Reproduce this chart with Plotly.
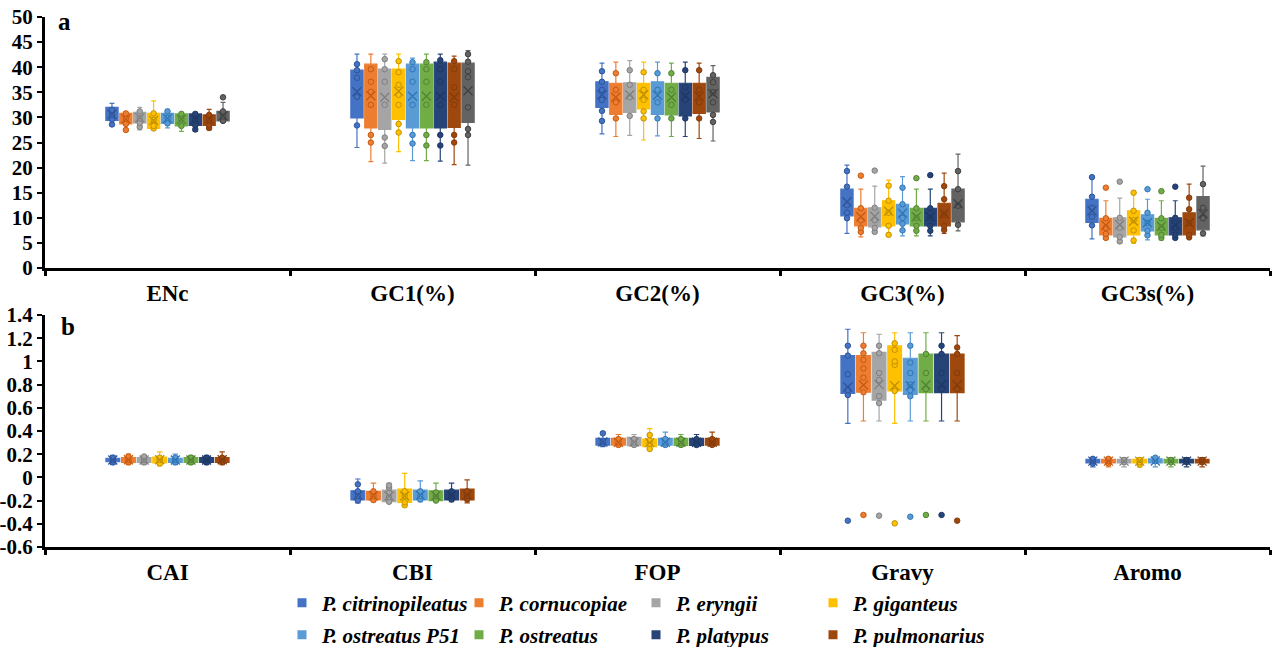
import plotly.graph_objects as go

SPECIES = ["P. citrinopileatus", "P. cornucopiae", "P. eryngii", "P. giganteus",
           "P. ostreatus P51", "P. ostreatus", "P. platypus", "P. pulmonarius"]
EXTRA_NAME = "Series 9"
COLORS = ["#4472C4", "#ED7D31", "#A5A5A5", "#FFC000", "#5B9BD5",
          "#70AD47", "#264478", "#9E480E", "#636363"]
EDGES = ["#2F5597", "#C55A11", "#7F7F7F", "#BF9000", "#2E75B6",
         "#548235", "#1F3864", "#843C0C", "#404040"]

A_CATS = ["ENc", "GC1(%)", "GC2(%)", "GC3(%)", "GC3s(%)"]
B_CATS = ["CAI", "CBI", "FOP", "Gravy", "Aromo"]

A_YTICKS = [0, 5, 10, 15, 20, 25, 30, 35, 40, 45, 50]
A_YLABELS = ["0", "5", "10", "15", "20", "25", "30", "35", "40", "45", "50"]
B_YTICKS = [-0.6, -0.4, -0.2, 0, 0.2, 0.4, 0.6, 0.8, 1.0, 1.2, 1.4]
B_YLABELS = ["-0.6", "-0.4", "-0.2", "0", "0.2", "0.4", "0.6", "0.8", "1", "1.2", "1.4"]

# ---- panel a : rows = species (9), columns = A_CATS ----
A_LOW = [
    [28.3, 24.0, 26.7, 6.9, 5.8],
    [27.2, 21.2, 26.2, 6.2, 5.7],
    [27.5, 20.9, 26.4, 6.9, 4.9],
    [27.5, 23.2, 25.5, 6.6, 4.9],
    [27.9, 21.4, 26.3, 6.4, 5.6],
    [27.2, 21.4, 26.2, 6.4, 5.6],
    [27.2, 21.3, 26.2, 6.4, 5.7],
    [27.5, 20.6, 25.8, 6.9, 6.0],
    [29.0, 20.5, 25.3, 7.4, 6.4],
]
A_Q1 = [
    [29.4, 29.9, 32.0, 10.4, 9.1],
    [28.7, 27.9, 30.6, 8.4, 6.6],
    [28.9, 27.6, 31.0, 8.2, 6.2],
    [27.8, 29.6, 31.7, 8.4, 6.6],
    [28.8, 27.9, 30.6, 8.8, 7.4],
    [28.3, 27.9, 30.5, 8.4, 6.6],
    [28.4, 27.9, 30.3, 8.4, 6.6],
    [28.4, 28.0, 30.8, 8.4, 6.6],
    [29.3, 29.0, 31.1, 9.2, 7.6],
]
A_MED = [
    [30.5, 35.2, 34.8, 13.0, 11.2],
    [29.8, 34.1, 34.1, 9.9, 8.2],
    [30.0, 34.2, 34.8, 9.6, 8.2],
    [29.5, 35.1, 34.5, 11.0, 8.8],
    [29.9, 34.2, 34.5, 10.6, 8.6],
    [29.6, 34.1, 34.8, 9.9, 7.9],
    [29.6, 34.1, 34.5, 9.9, 8.2],
    [29.5, 33.8, 34.5, 10.6, 8.8],
    [30.2, 38.1, 34.9, 12.4, 9.9],
]
A_Q3 = [
    [32.0, 39.4, 37.1, 15.7, 13.7],
    [30.8, 40.6, 36.8, 11.9, 9.9],
    [31.0, 39.6, 36.9, 12.0, 10.0],
    [30.8, 39.6, 36.8, 13.4, 11.4],
    [30.8, 40.6, 37.1, 12.7, 10.6],
    [30.7, 40.6, 36.8, 11.9, 9.9],
    [30.7, 41.0, 36.8, 11.9, 10.0],
    [30.5, 40.8, 36.8, 12.9, 11.0],
    [31.2, 40.8, 38.0, 15.7, 14.2],
]
A_HIGH = [
    [32.8, 42.6, 40.8, 20.5, 18.1],
    [31.1, 42.6, 41.0, 15.7, 13.4],
    [32.0, 42.6, 41.3, 16.3, 13.9],
    [33.3, 42.6, 41.0, 17.5, 15.0],
    [31.6, 41.8, 41.0, 18.2, 13.7],
    [31.0, 42.6, 40.8, 15.7, 13.4],
    [31.0, 42.6, 41.0, 15.7, 13.4],
    [31.6, 42.2, 40.8, 18.9, 16.7],
    [33.0, 43.3, 40.3, 22.7, 20.3],
]
A_MEAN = [
    [30.6, 35.1, 34.5, 13.2, 11.4],
    [29.7, 34.3, 34.0, 10.2, 8.5],
    [29.9, 34.0, 34.5, 10.3, 8.6],
    [29.4, 35.2, 34.5, 11.3, 9.3],
    [29.8, 34.2, 34.4, 10.9, 9.0],
    [29.6, 34.2, 34.0, 10.2, 8.3],
    [29.6, 34.2, 34.3, 10.2, 8.5],
    [29.6, 34.0, 34.2, 10.8, 9.0],
    [30.3, 35.3, 34.7, 12.8, 10.8],
]
A_PTS = [
    [[31.5, 30.5, 29.6, 28.6], [40.6, 39.4, 37.9, 34.1, 28.4], [39.2, 37.1, 35.5, 33.5, 31.3, 29.3], [19.3, 16.2, 12.5, 11.0, 9.9], [18.1, 14.2, 12.0, 10.2, 8.5]],
    [[30.8, 29.8, 28.7, 27.5], [39.6, 37.1, 35.1, 32.5, 26.5, 25.0], [38.8, 35.5, 33.0, 29.8], [18.4, 11.9, 9.5, 8.0, 7.2], [16.0, 9.9, 8.0, 6.8, 6.0]],
    [[31.2, 29.8, 28.9, 28.1], [41.6, 39.6, 37.1, 32.5, 26.0, 24.3], [39.4, 36.5, 34.0, 30.3], [19.4, 12.0, 9.5, 8.0, 7.2], [17.2, 10.0, 8.0, 6.2, 5.3]],
    [[30.8, 29.5, 28.3, 27.8], [41.2, 39.0, 36.5, 34.5, 32.5, 28.7, 27.0], [39.0, 35.5, 33.5, 31.2, 29.8], [16.4, 13.4, 11.0, 8.4, 6.6], [15.0, 11.4, 9.5, 7.5, 5.5]],
    [[31.2, 29.9, 28.8], [41.0, 39.6, 37.1, 32.5, 26.5, 24.8], [38.8, 35.5, 33.0, 29.8], [16.0, 12.7, 10.0, 8.8, 7.5], [15.7, 11.0, 9.0, 7.4, 6.5]],
    [[30.7, 29.6, 28.3], [41.0, 39.6, 37.1, 32.5, 26.5, 24.4], [38.8, 35.5, 32.5, 29.8], [17.9, 11.9, 10.0, 8.4, 7.4], [15.3, 9.9, 8.0, 6.6, 6.0]],
    [[30.7, 29.6, 28.4, 27.6], [41.4, 39.6, 37.1, 32.5, 26.5, 24.4], [39.4, 36.0, 33.5, 29.8], [18.5, 11.9, 10.0, 8.4, 7.4], [16.2, 10.0, 8.0, 6.6, 6.0]],
    [[30.5, 29.5, 28.4, 27.9], [41.2, 39.6, 36.0, 32.5, 26.5, 25.0], [39.4, 35.5, 33.0, 29.8], [16.3, 13.7, 10.6, 8.4, 7.6], [14.0, 11.7, 9.0, 6.6, 6.1]],
    [[34.0, 31.2, 30.2, 29.3], [42.6, 41.1, 39.2, 38.0, 32.0, 27.7, 26.5], [38.4, 37.0, 35.0, 33.0, 30.5, 29.1], [19.3, 15.7, 12.4, 8.6], [16.7, 12.0, 9.9, 6.9]],
]

# ---- panel b : rows = species (8), columns = B_CATS ----
B_LOW = [
    [0.11, -0.22, 0.265, 0.466, 0.09],
    [0.11, -0.21, 0.265, 0.486, 0.09],
    [0.11, -0.21, 0.265, 0.486, 0.09],
    [0.10, -0.24, 0.245, 0.466, 0.09],
    [0.11, -0.21, 0.265, 0.486, 0.09],
    [0.11, -0.21, 0.265, 0.486, 0.09],
    [0.11, -0.21, 0.265, 0.486, 0.09],
    [0.11, -0.22, 0.270, 0.486, 0.09],
]
B_Q1 = [
    [0.135, -0.195, 0.279, 0.725, 0.125],
    [0.130, -0.195, 0.279, 0.734, 0.125],
    [0.130, -0.210, 0.273, 0.667, 0.125],
    [0.125, -0.215, 0.265, 0.745, 0.125],
    [0.130, -0.195, 0.279, 0.716, 0.125],
    [0.130, -0.200, 0.276, 0.730, 0.125],
    [0.130, -0.195, 0.276, 0.730, 0.125],
    [0.130, -0.195, 0.279, 0.730, 0.125],
]
B_MED = [
    [0.150, -0.155, 0.300, 0.831, 0.140],
    [0.150, -0.155, 0.300, 0.874, 0.140],
    [0.150, -0.160, 0.300, 0.868, 0.140],
    [0.150, -0.160, 0.295, 0.831, 0.140],
    [0.150, -0.155, 0.300, 0.860, 0.140],
    [0.150, -0.155, 0.300, 0.860, 0.140],
    [0.150, -0.155, 0.300, 0.860, 0.140],
    [0.150, -0.150, 0.300, 0.860, 0.140],
]
B_Q3 = [
    [0.165, -0.115, 0.337, 1.049, 0.155],
    [0.170, -0.120, 0.337, 1.049, 0.155],
    [0.170, -0.110, 0.345, 1.078, 0.155],
    [0.175, -0.100, 0.330, 1.133, 0.155],
    [0.165, -0.110, 0.337, 1.027, 0.160],
    [0.170, -0.115, 0.337, 1.064, 0.155],
    [0.170, -0.110, 0.337, 1.064, 0.155],
    [0.170, -0.100, 0.337, 1.064, 0.155],
]
B_HIGH = [
    [0.19, -0.014, 0.39, 1.277, 0.17],
    [0.20, -0.050, 0.37, 1.247, 0.17],
    [0.19, -0.050, 0.37, 1.234, 0.17],
    [0.22, 0.035, 0.42, 1.247, 0.17],
    [0.20, -0.030, 0.39, 1.247, 0.18],
    [0.19, -0.050, 0.37, 1.247, 0.17],
    [0.19, -0.050, 0.37, 1.247, 0.17],
    [0.22, -0.022, 0.39, 1.222, 0.17],
]
B_MEAN = [
    [0.150, -0.155, 0.305, 0.780, 0.140],
    [0.152, -0.158, 0.303, 0.797, 0.140],
    [0.150, -0.160, 0.305, 0.800, 0.140],
    [0.152, -0.160, 0.300, 0.790, 0.140],
    [0.150, -0.155, 0.303, 0.790, 0.142],
    [0.150, -0.158, 0.303, 0.797, 0.140],
    [0.150, -0.155, 0.303, 0.800, 0.140],
    [0.152, -0.152, 0.303, 0.797, 0.140],
]
B_PTS = [
    [[0.17, 0.15, 0.13], [-0.06, -0.12, -0.16, -0.20], [0.38, 0.31, 0.29], [1.135, 1.05, 0.889, 0.753, 0.71, -0.373], [0.16, 0.14, 0.12]],
    [[0.18, 0.15, 0.13], [-0.12, -0.16, -0.195], [0.33, 0.30, 0.28], [1.135, 1.07, 1.012, 0.94, 0.86, 0.734, -0.324], [0.16, 0.14, 0.12]],
    [[0.18, 0.15, 0.13], [-0.07, -0.09, -0.13, -0.17, -0.21], [0.33, 0.30, 0.28], [1.135, 1.07, 0.90, 0.84, 0.70, 0.64, -0.33], [0.15, 0.13]],
    [[0.17, 0.15, 0.12], [-0.12, -0.16, -0.215, -0.24], [0.365, 0.32, 0.29, 0.245], [1.156, 1.10, 1.0, 0.97, 0.745, -0.396], [0.15, 0.13, 0.11]],
    [[0.17, 0.15, 0.13], [-0.12, -0.16, -0.19], [0.33, 0.30, 0.28], [1.135, 0.99, 0.90, 0.80, 0.75, 0.70, -0.339], [0.17, 0.14]],
    [[0.17, 0.15, 0.13], [-0.13, -0.16, -0.20], [0.33, 0.30, 0.28], [1.064, 0.90, 0.76, -0.324], [0.15, 0.13]],
    [[0.17, 0.15, 0.13], [-0.12, -0.16, -0.19], [0.33, 0.30, 0.28], [1.135, 1.064, 0.90, 0.76, -0.324], [0.15, 0.13]],
    [[0.17, 0.15, 0.13], [-0.12, -0.16, -0.19], [0.33, 0.30, 0.28], [1.12, 1.064, 0.90, 0.76, -0.373], [0.15, 0.13]],
]

SERIF = "Liberation Serif, Times New Roman, serif"

fig = go.Figure()


def add_panel(cats, low, q1, med, q3, high, mean, pts, xa, ya, tag):
    for i in range(len(low)):
        name = SPECIES[i] if i < len(SPECIES) else EXTRA_NAME
        grp = f"{tag}{i}"
        fig.add_trace(go.Box(
            x=cats, q1=q1[i], median=med[i], q3=q3[i],
            lowerfence=low[i], upperfence=high[i], y=pts[i],
            boxpoints="all", jitter=0, pointpos=0,
            fillcolor=COLORS[i], line=dict(color=COLORS[i], width=1.2),
            whiskerwidth=0.4,
            marker=dict(color=COLORS[i], size=5.5, line=dict(color=EDGES[i], width=1)),
            offsetgroup=grp, alignmentgroup=tag,
            xaxis=xa, yaxis=ya, showlegend=False, name=name, hoverinfo="skip"))
        fig.add_trace(go.Box(
            x=cats, q1=mean[i], median=mean[i], q3=mean[i],
            lowerfence=mean[i], upperfence=mean[i], y=[[m] for m in mean[i]],
            boxpoints="all", jitter=0, pointpos=0,
            fillcolor="rgba(0,0,0,0)", line=dict(color="rgba(0,0,0,0)", width=0),
            marker=dict(symbol="x-thin-open", size=9, color=EDGES[i],
                        line=dict(color=EDGES[i], width=1.3)),
            offsetgroup=grp, alignmentgroup=tag,
            xaxis=xa, yaxis=ya, showlegend=False, name=name + " mean", hoverinfo="skip"))


add_panel(A_CATS, A_LOW, A_Q1, A_MED, A_Q3, A_HIGH, A_MEAN, A_PTS, "x", "y", "a")
add_panel(B_CATS, B_LOW, B_Q1, B_MED, B_Q3, B_HIGH, B_MEAN, B_PTS, "x2", "y2", "b")

# legend entries (two rows of four)
for i, name in enumerate(SPECIES):
    fig.add_trace(go.Scatter(
        x=[None], y=[None], mode="markers", name=name,
        marker=dict(symbol="square", size=9, color=COLORS[i]),
        xaxis="x2", yaxis="y2",
        legend="legend" if i < 4 else "legend2"))

W, H = 1281, 647
PLOT_L, PLOT_R = 45, 1270
PW = PLOT_R - PLOT_L


def ydom(top_px, bot_px):
    return [(H - bot_px) / H, (H - top_px) / H]


def px_x(p):
    return (p - PLOT_L) / PW


def px_y(p):
    return (H - p) / H


axis_common = dict(showline=True, linecolor="black", linewidth=3, showgrid=False,
                   zeroline=False, mirror=False)
xcommon = dict(axis_common, type="category", range=[-0.5, 4.5], ticks="outside",
               tickson="boundaries", ticklen=5, tickwidth=2.5, tickcolor="black",
               tickfont=dict(family=SERIF, size=23, color="black", weight="bold"),
               ticklabelstandoff=2)
ycommon = dict(axis_common, ticks="outside", ticklen=5, tickwidth=2, tickcolor="black",
               tickfont=dict(family=SERIF, size=21, color="black", weight="bold"))

legend_common = dict(orientation="h", xanchor="left", yanchor="middle",
                     entrywidth=132, itemwidth=30, bgcolor="rgba(0,0,0,0)",
                     font=dict(family=SERIF, size=21, color="black", weight="bold", style="italic"),
                     tracegroupgap=0, itemclick=False)

fig.update_layout(
    width=W, height=H,
    margin=dict(l=PLOT_L, r=W - PLOT_R, t=0, b=0, autoexpand=False),
    paper_bgcolor="white", plot_bgcolor="white",
    boxmode="group", boxgap=0.49, boxgroupgap=0.12,
    xaxis=dict(xcommon, domain=[0, 1], anchor="y", categoryarray=A_CATS),
    yaxis=dict(ycommon, domain=ydom(17, 268), anchor="x", range=[0, 50],
               tickvals=A_YTICKS, ticktext=A_YLABELS),
    xaxis2=dict(xcommon, domain=[0, 1], anchor="y2", categoryarray=B_CATS),
    yaxis2=dict(ycommon, domain=ydom(315, 547), anchor="x2", range=[-0.6, 1.4],
                tickvals=B_YTICKS, ticktext=B_YLABELS),
    legend=dict(legend_common, x=px_x(282), y=px_y(603)),
    legend2=dict(legend_common, x=px_x(282), y=px_y(635)),
    annotations=[
        dict(text="a", xref="paper", yref="paper", x=px_x(64), y=px_y(22),
             xanchor="center", yanchor="middle", showarrow=False,
             font=dict(family=SERIF, size=25, color="black", weight="bold")),
        dict(text="b", xref="paper", yref="paper", x=px_x(68), y=px_y(326),
             xanchor="center", yanchor="middle", showarrow=False,
             font=dict(family=SERIF, size=25, color="black", weight="bold")),
    ],
)

# remove the browser's default 8 px page margin so the figure fills the window
fig.write_html("out.html", config={"displayModeBar": False},
               post_script="document.body.style.margin='0px';")
